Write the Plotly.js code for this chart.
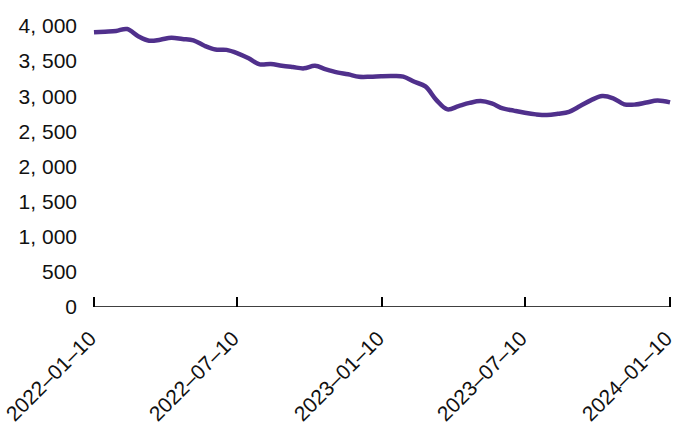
<!DOCTYPE html>
<html>
<head>
<meta charset="utf-8">
<script src="https://cdn.plot.ly/plotly-3.0.1.min.js"></script>
<style>html,body{margin:0;padding:0;background:#fff;}#chart{width:676px;height:430px;}</style>
</head>
<body>
<div id="chart"></div>
<script>
const dates = [
  '2022-01-10','2022-01-24','2022-02-07','2022-02-21','2022-03-07','2022-03-21','2022-04-04','2022-04-18',
  '2022-05-02','2022-05-16','2022-05-30','2022-06-13','2022-06-27','2022-07-11','2022-07-25','2022-08-08',
  '2022-08-22','2022-09-05','2022-09-19','2022-10-03','2022-10-17','2022-10-31','2022-11-14','2022-11-28',
  '2022-12-12','2022-12-26','2023-01-09','2023-01-23','2023-02-06','2023-02-20','2023-03-06','2023-03-20',
  '2023-04-03','2023-04-17','2023-05-01','2023-05-15','2023-05-29','2023-06-12','2023-06-26','2023-07-10',
  '2023-07-24','2023-08-07','2023-08-21','2023-09-04','2023-09-18','2023-10-02','2023-10-16','2023-10-30',
  '2023-11-13','2023-11-27','2023-12-11','2023-12-25','2024-01-10'
];
const values = [
  3910,3919,3929,3957,3855,3790,3805,3833,
  3815,3796,3719,3665,3660,3611,3540,3454,
  3458,3434,3415,3397,3434,3383,3340,3312,
  3278,3278,3285,3288,3280,3206,3140,2945,
  2813,2860,2905,2931,2898,2827,2795,2765,
  2742,2732,2750,2779,2860,2945,3002,2970,
  2885,2882,2910,2940,2913
];
const yTickVals = [0,500,1000,1500,2000,2500,3000,3500,4000];
const yTickText = ['0','500','1, 000','1, 500','2, 000','2, 500','3, 000','3, 500','4, 000'];
const xTickVals = ['2022-01-10','2022-07-10','2023-01-10','2023-07-10','2024-01-10'];
const xTickText = ['2022–01–10','2022–07–10','2023–01–10','2023–07–10','2024–01–10'];

const trace = {
  x: dates, y: values, type: 'scatter', mode: 'lines',
  line: {color: '#50308C', width: 4.5, shape: 'spline', smoothing: 1},
  hoverinfo: 'skip', cliponaxis: false
};
const layout = {
  width: 676, height: 430,
  margin: {l: 92, r: 4, t: 26, b: 123, pad: 0},
  paper_bgcolor: '#fff', plot_bgcolor: '#fff',
  showlegend: false,
  font: {family: '"Liberation Sans", Arial, sans-serif', size: 21, color: '#111'},
  xaxis: {
    type: 'date', range: ['2022-01-07 12:00', '2024-01-12 12:00'],
    tickvals: xTickVals, ticktext: xTickText, tickangle: -45,
    ticklabeloverflow: 'allow',
    showgrid: false, zeroline: false,
    showline: false,
    ticks: 'inside', ticklen: 10, tickwidth: 1.5, tickcolor: '#000',
    ticklabelstandoff: 14, ticklabelshift: -4
  },
  yaxis: {
    range: [0, 4000], tickvals: yTickVals, ticktext: yTickText,
    showgrid: false, zeroline: false, showline: false, ticks: '',
    ticklabelstandoff: 14
  },
  shapes: [{
    type: 'line', xref: 'x', yref: 'y', layer: 'below',
    x0: xTickVals[0], x1: xTickVals[xTickVals.length - 1], y0: 0, y1: 0,
    line: {color: '#000', width: 1.5}
  }]
};
Plotly.newPlot('chart', [trace], layout, {staticPlot: true, displayModeBar: false});
</script>
</body>
</html>
